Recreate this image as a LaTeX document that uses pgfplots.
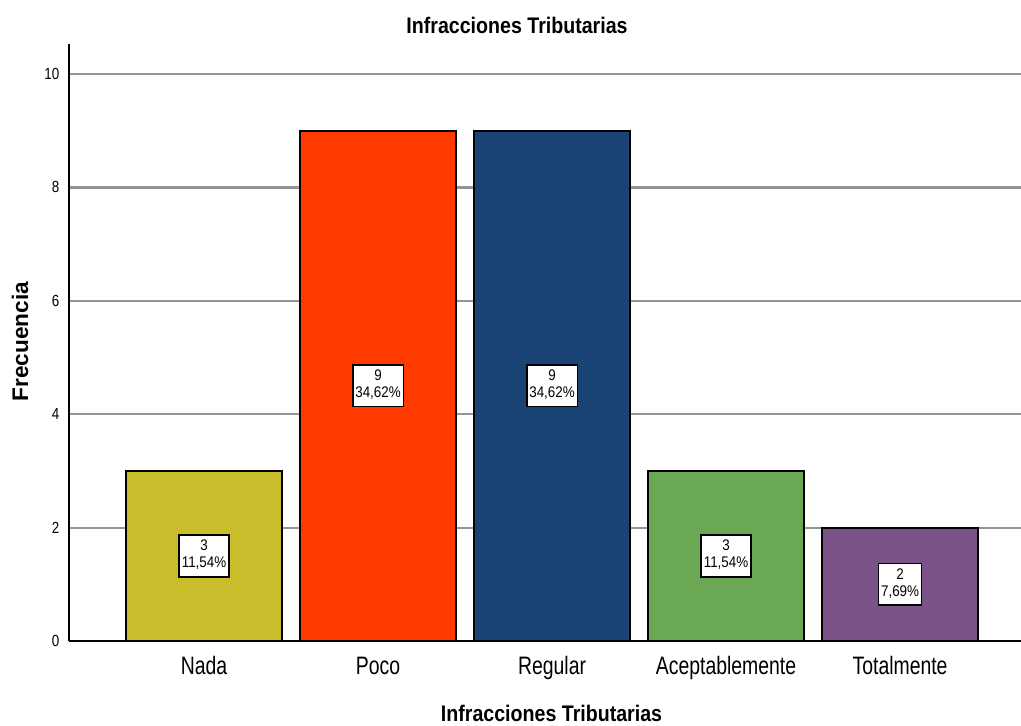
\documentclass[border=0pt]{standalone}
\usepackage{fontspec}
\setmainfont{Liberation Sans}
\usepackage{graphicx}
\usepackage{pgfplots}
\pgfplotsset{compat=1.18}
\definecolor{cNada}{RGB}{201,189,43}
\definecolor{cPoco}{RGB}{255,58,0}
\definecolor{cRegular}{RGB}{26,68,118}
\definecolor{cAcept}{RGB}{106,168,83}
\definecolor{cTotal}{RGB}{123,83,137}
\newcommand{\vs}[2][1.3]{\scalebox{1}[#1]{#2}}
\newcommand{\lbltext}[2]{\scalebox{1}[1.15]{\begin{tabular}{@{}c@{}}#1\\#2\end{tabular}}}
\begin{document}
\begin{tikzpicture}
\useasboundingbox (-34.5pt,-42pt) rectangle (476pt,320.5pt);
\begin{axis}[
  at={(0pt,0pt)}, anchor=south west,
  scale only axis, width=476pt, height=298.5pt,
  xmin=-0.776, xmax=4.695, ymin=0, ymax=10.53,
  axis x line*=bottom, axis y line*=left,
  axis line style={line width=1pt,-},
  ybar, bar width=0.897, bar shift=0pt,
  xtick={0,1,2,3,4},
  xticklabels={\vs{Nada},\vs{Poco},\vs{Regular},\vs{Aceptablemente},\vs{Totalmente}},
  ytick={0,2,4,6,8,10},
  yticklabel={\vs[1.2]{\pgfmathprintnumber{\tick}}},
  major tick length=0pt,
  ymajorgrids, grid style={black!42, line width=1.1pt},
  /pgf/number format/assume math mode=true,
  yticklabel style={font=\fontsize{6.7}{8}\selectfont, xshift=-1.3pt},
  xticklabel style={font=\fontsize{9.7}{11}\selectfont, anchor=base, yshift=-16.5pt},
  every axis plot/.append style={draw=black, line width=0.9pt},
  clip=false,
]
\addplot[fill=cNada] coordinates {(0,3)};
\addplot[fill=cPoco] coordinates {(1,9)};
\addplot[fill=cRegular] coordinates {(2,9)};
\addplot[fill=cAcept] coordinates {(3,3)};
\addplot[fill=cTotal] coordinates {(4,2)};
\tikzset{lbl/.style={fill=white, draw=black, line width=0.8pt, align=center,
  inner xsep=1.3pt, inner ysep=1.9pt, font=\fontsize{6.7}{7.4}\selectfont}}
\node[lbl] at (axis cs:0,1.5) {\lbltext{3}{11,54\%}};
\node[lbl] at (axis cs:1,4.5) {\lbltext{9}{34,62\%}};
\node[lbl] at (axis cs:2,4.5) {\lbltext{9}{34,62\%}};
\node[lbl] at (axis cs:3,1.5) {\lbltext{3}{11,54\%}};
\node[lbl] at (axis cs:4,1.0) {\lbltext{2}{7,69\%}};
\end{axis}
\node[font=\fontsize{9.8}{11}\selectfont\bfseries, anchor=base] at (224pt,304pt) {\vs[1.15]{Infracciones Tributarias}};
\node[font=\fontsize{11.3}{13}\selectfont\bfseries, rotate=90] at (-24.5pt,149.75pt) {Frecuencia};
\node[font=\fontsize{9.8}{11}\selectfont\bfseries, anchor=base] at (241.25pt,-40pt) {\vs[1.15]{Infracciones Tributarias}};
\end{tikzpicture}
\end{document}
